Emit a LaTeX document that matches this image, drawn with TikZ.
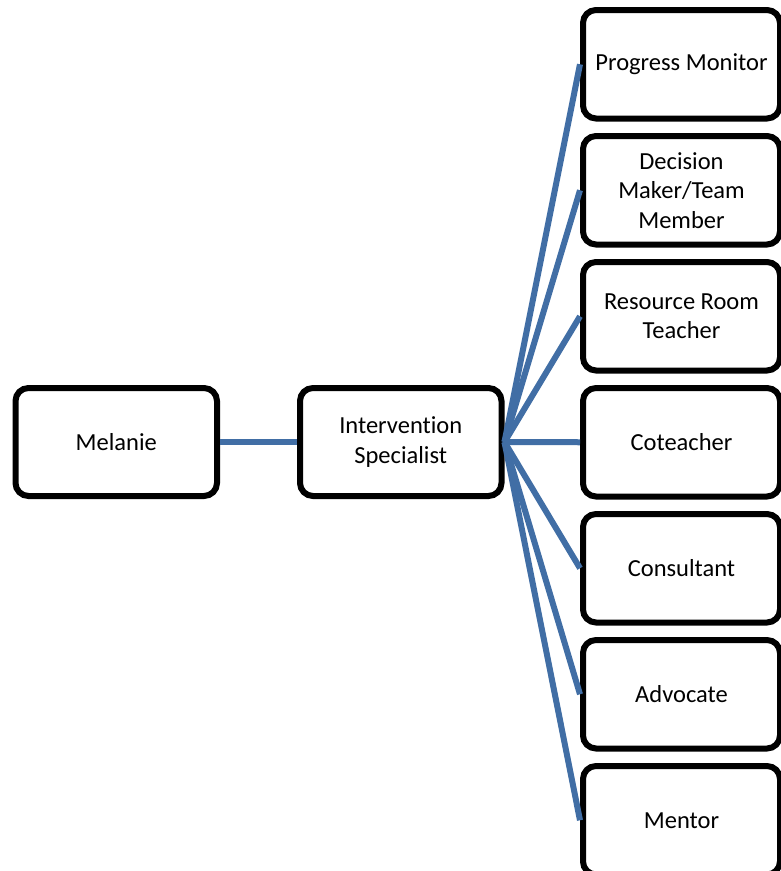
\documentclass[tikz,border=0pt]{standalone}
\usepackage{fontspec}
\setmainfont[Ligatures=NoCommon]{Carlito}
\definecolor{linkblue}{RGB}{65,110,165}
\begin{document}
\begin{tikzpicture}[x=1pt,y=-1pt,
  rolebox/.style={draw=black, line width=6pt, rounded corners=13pt, fill=white,
    align=center, inner sep=0pt, font=\fontsize{24.5}{29.5}\selectfont},
  leftbox/.style={rolebox, minimum width=201.5pt, minimum height=108pt},
  rightbox/.style={rolebox, minimum width=197pt, minimum height=108.5pt},
  link/.style={draw=linkblue, line width=6pt}]
  \useasboundingbox (0,0) rectangle (780,871);

  % central chain
  \node[leftbox] (mel) at (116.25,442) {Melanie};
  \node[leftbox] (spec) at (400.75,442) {Intervention\\Specialist};

  % roles column
  \node[rightbox] (r1) at (681.5,64.25)  {Progress Monitor};
  \node[rightbox] (r2) at (681.5,190.25) {Decision\\Maker/Team\\Member};
  \node[rightbox] (r3) at (681.5,316.25) {Resource Room\\Teacher};
  \node[rightbox] (r4) at (681.5,442.25) {Coteacher};
  \node[rightbox] (r5) at (681.5,568.25) {Consultant};
  \node[rightbox] (r6) at (681.5,694.25) {Advocate};
  \node[rightbox] (r7) at (681.5,820.25) {Mentor};

  % connectors
  \draw[link] (mel.east) -- (spec.west);
  \foreach \r in {r1,r2,r3,r4,r5,r6,r7}
    \draw[link] (spec.east) -- (\r.west);
\end{tikzpicture}
\end{document}
